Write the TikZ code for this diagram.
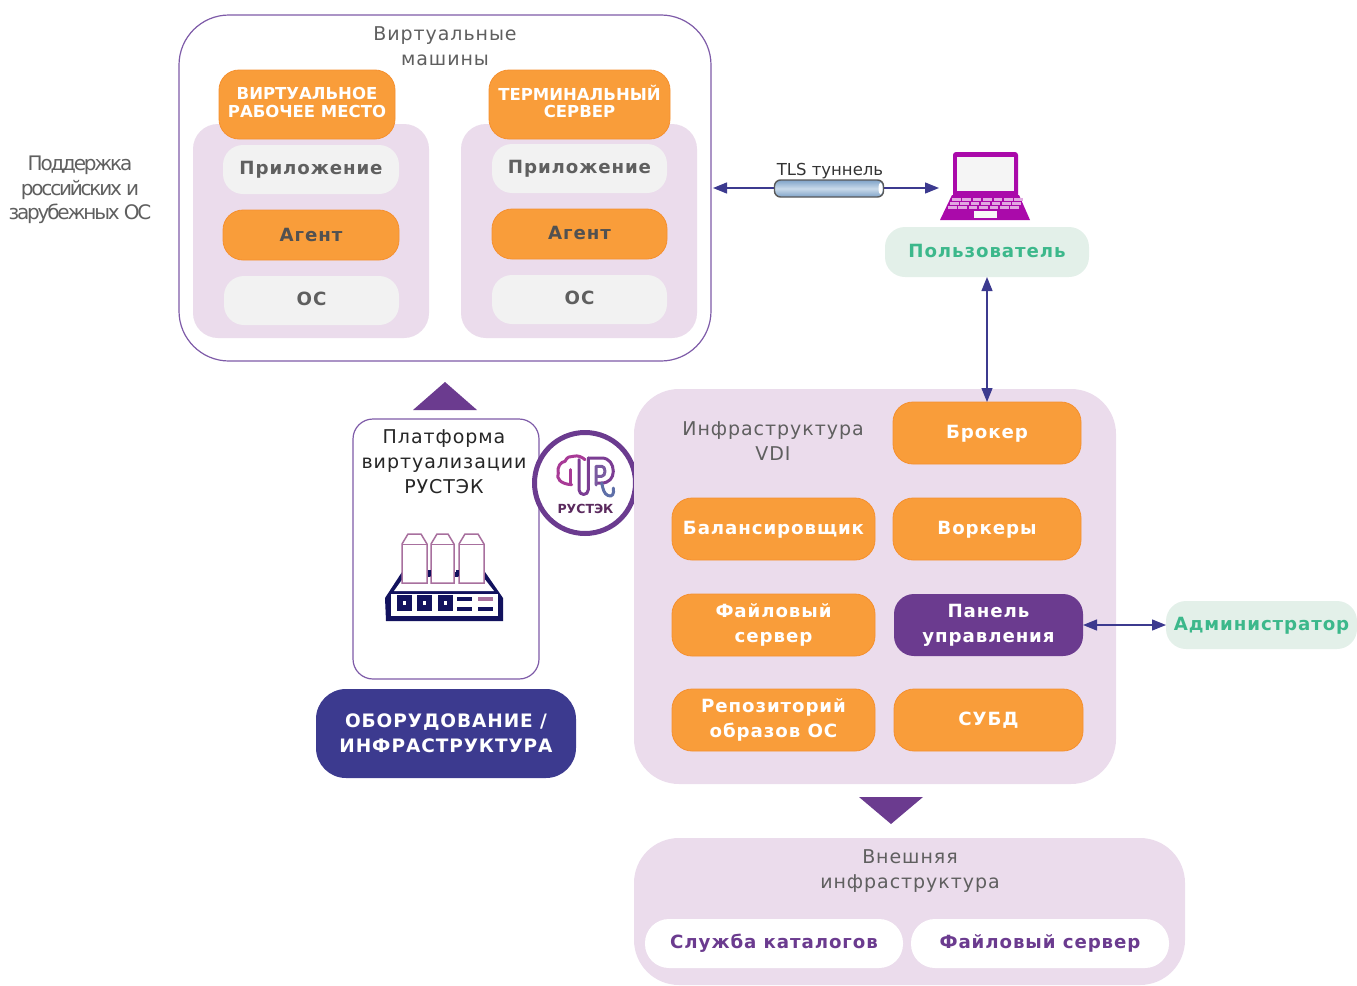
\documentclass[tikz,border=0pt]{standalone}
\usepackage{fontspec}
\setmainfont{DejaVu Sans}
\newfontfamily\spc[LetterSpace=5]{DejaVu Sans}
\newfontfamily\tgt[LetterSpace=-11]{DejaVu Sans}
\usetikzlibrary{arrows.meta,shapes.geometric}
\definecolor{lil}{HTML}{EBDCEC}
\definecolor{org}{HTML}{F99D3A}
\definecolor{orgb}{HTML}{F5902F}
\definecolor{pur}{HTML}{6B3B8F}
\definecolor{frame}{HTML}{7E5BA8}
\definecolor{navy}{HTML}{3C3A8F}
\definecolor{mint}{HTML}{E3F0E9}
\definecolor{mtxt}{HTML}{3CB88B}
\definecolor{gtxt}{HTML}{5F5F5F}
\definecolor{lap}{HTML}{AA0AAA}
\definecolor{dark}{HTML}{12125E}
\definecolor{mauve}{HTML}{A8709E}
\definecolor{tubeA}{HTML}{7FA3C8}
\definecolor{tubeB}{HTML}{C9DAEA}
\definecolor{logoA}{HTML}{A83A96}
\definecolor{logoB}{HTML}{7B3D93}
\definecolor{logoC}{HTML}{7A5BA0}
\definecolor{logoD}{HTML}{5E6FA8}
\definecolor{logoT}{HTML}{5B2A5E}
\tikzset{
 x=1pt,y=-1pt,
 bx/.style={inner sep=0pt,outer sep=0pt,align=center,rounded corners=20pt},
 panel/.style={bx,fill=lil,rounded corners=25pt},
 boldtxt/.style={font=\spc\fontsize{18.2}{25}\selectfont\bfseries},
 orangebox/.style={bx,fill=org,draw=orgb,line width=.8pt,text=white,boldtxt},
 orangedark/.style={bx,fill=org,draw=orgb,line width=.8pt,text=gtxt!85!black,boldtxt},
 head/.style={bx,fill=org,draw=orgb,line width=.8pt,text=white,font=\fontsize{16.5}{20.5}\selectfont\bfseries},
 graybox/.style={bx,fill=black!5,text=gtxt,boldtxt},
 purbox/.style={bx,fill=pur,text=white,boldtxt},
 mintbox/.style={bx,fill=mint,text=mtxt,boldtxt},
 whitebox/.style={bx,fill=white,text=pur,rounded corners=24pt,boldtxt},
 lab/.style={inner sep=0pt,align=center,text=gtxt,font=\spc\fontsize{19}{25}\selectfont},
 dbl/.style={navy,line width=1.3pt,{Triangle[length=14pt,width=11pt]}-{Triangle[length=14pt,width=11pt]}},
 sgl/.style={navy,line width=1.3pt,-{Triangle[length=14pt,width=11pt]}},
 tri/.style={fill=pur},
 logoline/.style={line width=3pt,line cap=round,line join=round},
}
\newcommand{\bxn}[7]{\node[#1,minimum width={#5-#3},minimum height={#6-#4}] (#2) at ({(#3+#5)/2},{(#4+#6)/2}) {#7};}
\newcommand{\lift}[2]{\raisebox{#1}{\begin{tabular}{@{}c@{}}#2\end{tabular}}}
\begin{document}
\begin{tikzpicture}
\useasboundingbox (0,0) rectangle (1357,985);
% VM frame
\bxn{bx,draw=frame,line width=1.2pt,fill=white,rounded corners=50pt}{vm}{179}{15}{711}{361}{}
\node[lab] (vmlabel) at (445,46) {Виртуальные\\машины};
\bxn{panel}{lp}{193}{124}{429}{338}{}
\bxn{panel}{rp}{461}{124}{697}{338}{}
\bxn{head}{vrm}{219}{70}{395}{139}{\lift{1pt}{ВИРТУАЛЬНОЕ\\[-3pt]РАБОЧЕЕ МЕСТО}}
\bxn{head}{term}{489}{70}{670}{139}{\lift{3pt}{ТЕРМИНАЛЬНЫЙ\\[-3pt]СЕРВЕР}}
\bxn{graybox}{appl}{223}{145}{399}{194}{Приложение}
\bxn{orangedark}{agl}{223}{210}{399}{260}{Агент}
\bxn{graybox}{osl}{224}{276}{399}{325}{\lift{1pt}{ОС}}
\bxn{graybox}{appr}{492}{144}{667}{193}{Приложение}
\bxn{orangedark}{agr}{492}{209}{667}{259}{\lift{1pt}{Агент}}
\bxn{graybox}{osr}{492}{275}{667}{324}{\lift{1pt}{ОС}}
\node[inner sep=0pt,align=center,text=gtxt,font=\tgt\fontsize{20}{24.5}\selectfont] (sup) at (80,190) {Поддержка\\российских и\\зарубежных ОС};
% tunnel
\coordinate (vmedge) at (713,188);
\coordinate (lapin) at (939,188);
\draw[sgl] (829,188) -- (vmedge);
\draw[sgl] (829,188) -- (lapin);
\node[inner sep=0pt,outer sep=0pt,minimum width=109pt,minimum height=17pt,rounded corners=6pt,draw=black!65,line width=1.4pt,top color=tubeA,bottom color=tubeA,middle color=tubeB] (tun) at (829,188.5) {};
\fill[white] (880.5,188.5) ellipse[x radius=2,y radius=6];
\node[inner sep=0pt,font=\fontsize{16.5}{20}\selectfont,text=black!80,anchor=south] (tunl) at (830,179) {TLS туннель};
% laptop
\fill[lap] (953,155) arc[start angle=180,end angle=270,radius=3] -- (1015,152) arc[start angle=270,end angle=360,radius=3] -- (1018,195) -- (953,195) -- cycle;
\fill[black!4] (957,157) rectangle (1014,191);
\fill[lap] (952,195) -- (1019,195) -- (1030,220) -- (940,220) -- cycle;
\foreach \yy/\a in {198/952,202/950,206/948}{
 \foreach \i in {0,...,6}{\fill[lap!35!white] ({\a+\i*10.4},\yy) rectangle ({\a+\i*10.4+8.5},{\yy+2.8});}}
\fill[black!3] (974,211) rectangle (997,218);
\bxn{mintbox}{user}{885}{227}{1089}{277}{\lift{1pt}{Пользователь}}
% platform
\fill[tri] (413,410) -- (477,410) -- (445,382) -- cycle;
\bxn{bx,draw=frame,line width=1.2pt,fill=white}{plat}{353}{419}{539}{679}{}
\node[inner sep=0pt,align=center,text=black!85,font=\spc\fontsize{19}{25}\selectfont] (platl) at (444,461.5) {Платформа\\виртуализации\\РУСТЭК};
\bxn{bx,fill=navy,text=white,rounded corners=30pt,font=\spc\fontsize{18.5}{25}\selectfont\bfseries}{equip}{316}{689}{576}{778}{ОБОРУДОВАНИЕ /\\ИНФРАСТРУКТУРА}
% server icon
\fill[dark] (385,598) -- (402,572) -- (485,572) -- (503,598) -- (503,621) -- (386,621) -- cycle;
\fill[white] (394,591) -- (404,577) -- (483,577) -- (494,591) -- cycle;
\fill[white] (391,594) rectangle (498,615.5);
\foreach \xx in {397,417,438}{\fill[dark] (\xx,595) rectangle ({\xx+14.5},610.5); \fill[white] ({\xx+5.5},601) rectangle ({\xx+9},605);}
\fill[dark] (457,597) rectangle (472,601);
\fill[mauve] (478,597) rectangle (493,601);
\fill[dark] (457,606.5) rectangle (472,611);
\fill[dark] (478,606.5) rectangle (493,611);
\foreach \xx/\w in {402/25,431/23,459/25}{
 \draw[mauve,fill=white,line width=1.5pt] (\xx,583) -- (\xx,544) -- ({\xx+6},534) -- ({\xx+\w-6},534) -- ({\xx+\w},544) -- ({\xx+\w},583) -- cycle;
 \draw[mauve,line width=1pt] (\xx,544) -- ({\xx+\w},544);}
\fill[dark] (427.5,570) rectangle (430.5,576);
\fill[dark] (455.5,570) rectangle (458.5,576);
% logo
\node[circle,draw=pur,line width=5pt,fill=white,minimum size=101pt,inner sep=0pt] (logo) at (585,483) {};
\begin{scope}[logoline]
\draw[logoA] (571.7,484.7) .. controls (560,484) and (556,478) .. (558.3,473) .. controls (557,466) and (561,462) .. (565,461.3) .. controls (567,457) and (570,456) .. (573.3,456.3) .. controls (578,455) and (582,457) .. (585,459.7);
\draw[logoA] (570,469.7) -- (570,484);
\draw[logoB] (579,459.7) -- (579,489.7) .. controls (579,496) and (588.3,496) .. (588.3,489.7) -- (588.3,458);
\draw[logoB] (588.3,458) -- (601.7,458) .. controls (609,458) and (613.3,464) .. (613.3,471.3) .. controls (613.3,478) and (609,483) .. (601.7,483) -- (596,483);
\draw[logoC] (596,485) -- (596,466.3) -- (601.7,466.3) .. controls (603.7,466.3) and (605,468.5) .. (605,471.3) .. controls (605,474) and (603.7,476.3) .. (601.7,476.3) -- (596,476.3);
\draw[logoD] (601.7,483) .. controls (603,489) and (604,494) .. (608,495.5) .. controls (612,497.5) and (614.5,494) .. (613.3,488);
\end{scope}
\node[inner sep=0pt,text=logoT,font=\fontsize{12.5}{14}\selectfont\bfseries] (logot) at (585.5,508.5) {РУСТЭК};
% infrastructure
\bxn{panel,rounded corners=45pt}{infra}{634}{389}{1116}{784}{}
\node[lab] (infral) at (773,441) {Инфраструктура\\VDI};
\bxn{orangebox}{broker}{893}{402}{1081}{464}{\lift{-1.5pt}{Брокер}}
\bxn{orangebox}{bal}{672}{498}{875}{560}{\lift{-1.5pt}{Балансировщик}}
\bxn{orangebox}{work}{893}{498}{1081}{560}{\lift{-1.5pt}{Воркеры}}
\bxn{orangebox}{file}{672}{594}{875}{656}{\lift{-1pt}{Файловый\\сервер}}
\bxn{purbox}{pan}{894}{594}{1083}{656}{\lift{-1pt}{Панель\\управления}}
\bxn{orangebox}{repo}{672}{689}{875}{751}{\lift{-1.5pt}{Репозиторий\\образов ОС}}
\bxn{orangebox}{db}{894}{689}{1083}{751}{СУБД}
\bxn{mintbox}{admin}{1166}{601}{1357}{649}{\lift{-1.5pt}{Администратор}}
\draw[dbl] (user.south) -- (broker.north);
\draw[dbl] (pan.east) -- (admin.west);
% external
\fill[tri] (859,797) -- (923,797) -- (891,824) -- cycle;
\bxn{panel,rounded corners=45pt}{ext}{634}{838}{1185}{985}{}
\node[lab] (extl) at (910,871.5) {Внешняя\\инфраструктура};
\bxn{whitebox}{dir}{645}{919}{903}{968}{\lift{-1pt}{Служба каталогов}}
\bxn{whitebox}{fs}{911}{919}{1169}{968}{\lift{-1pt}{Файловый сервер}}
\end{tikzpicture}
\end{document}
